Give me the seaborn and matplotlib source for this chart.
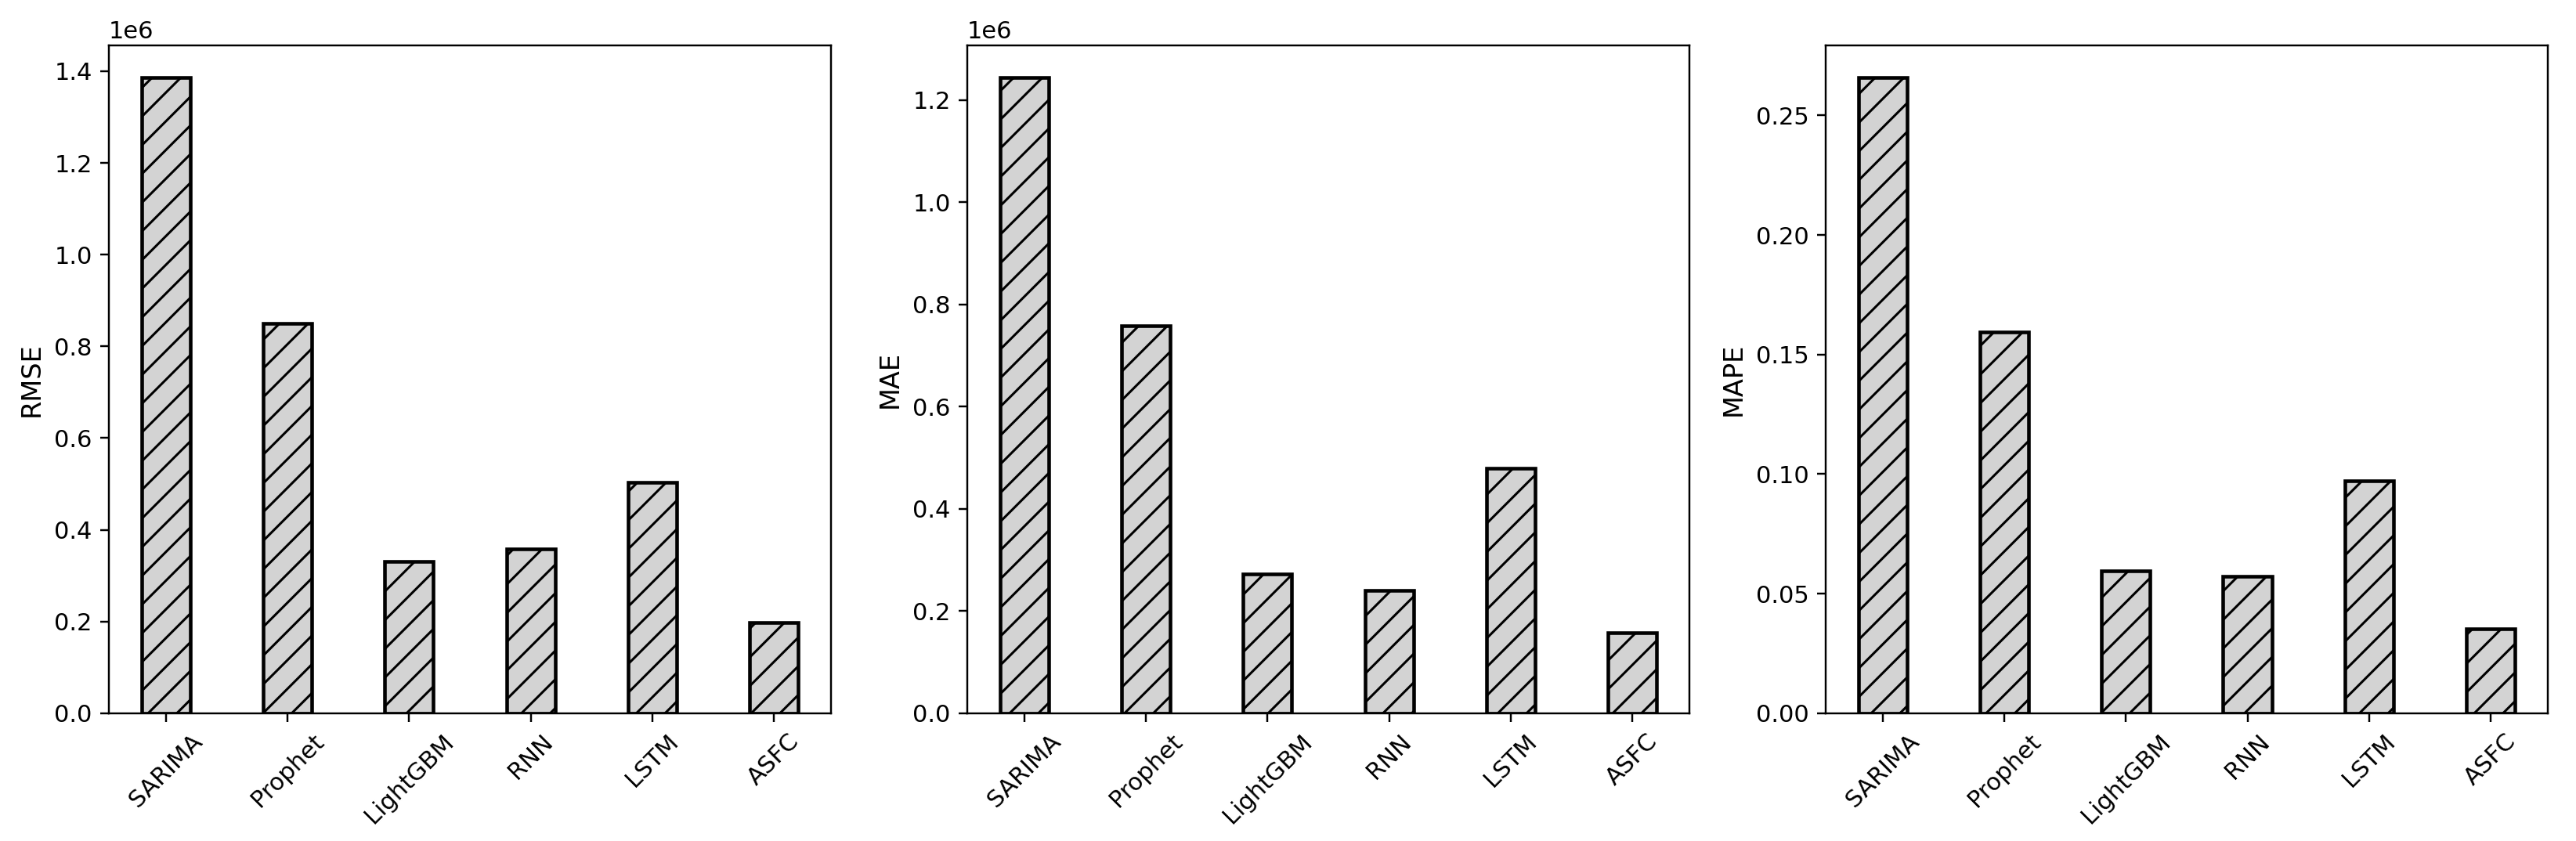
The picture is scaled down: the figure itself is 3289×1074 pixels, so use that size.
import pandas as pd
import numpy as np
import matplotlib
matplotlib.use("Agg")
import matplotlib.pyplot as plt
import seaborn as sns

# Data
models = ["SARIMA", "Prophet", "LightGBM", "RNN", "LSTM", "ASFC"]
rmse = [1.387e6, 0.850e6, 0.331e6, 0.358e6, 0.504e6, 0.198e6]
mae = [1.245e6, 0.758e6, 0.273e6, 0.240e6, 0.479e6, 0.157e6]
mape = [0.266, 0.1594, 0.0596, 0.0572, 0.0973, 0.0354]

metrics = ["RMSE", "MAE", "MAPE"]
df = pd.DataFrame({"model": models, "RMSE": rmse, "MAE": mae, "MAPE": mape})

DPI = 220
fig, axes = plt.subplots(1, 3, figsize=(3289 / DPI, 1074 / DPI), dpi=DPI)
fig.subplots_adjust(left=0.0423, right=0.989, bottom=0.152, top=0.946, wspace=0.189)

for ax, metric in zip(axes, metrics):
    sns.barplot(data=df, x="model", y=metric, ax=ax, color="lightgray",
                saturation=1, width=0.4, edgecolor="black", linewidth=1.5,
                hatch="//")
    ax.set_xlim(-0.47, len(models) - 0.53)
    ax.set_xlabel("")
    ax.set_ylabel(metric, fontsize=11)
    ax.tick_params(axis="x", labelrotation=45)

fig.savefig("out.png", dpi=DPI)
